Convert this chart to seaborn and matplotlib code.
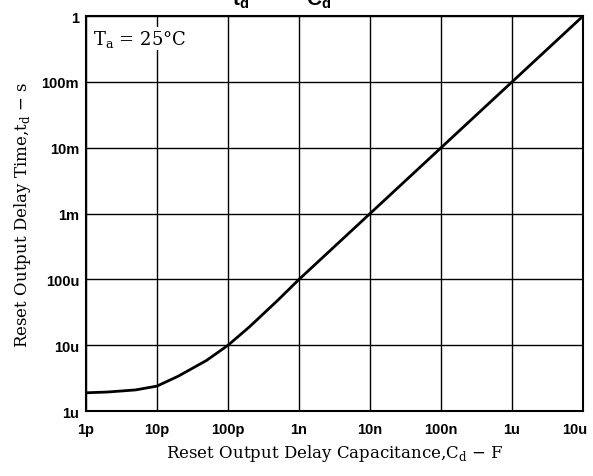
import pandas as pd
import matplotlib
matplotlib.use("Agg")
import matplotlib.pyplot as plt
import matplotlib.transforms as mtransforms
import seaborn as sns

# Values (capacitance in F, delay in s)
cap = [1e-12, 2e-12, 5e-12, 1e-11, 2e-11, 5e-11, 1e-10, 2e-10, 5e-10,
       1e-9, 1e-8, 1e-7, 1e-6, 1e-5]
delay = [1.9e-6, 1.95e-6, 2.1e-6, 2.4e-6, 3.4e-6, 5.9e-6, 1.0e-5, 1.9e-5, 4.8e-5,
         1e-4, 1e-3, 1e-2, 1e-1, 1.0]

x_ticks = [1e-12, 1e-11, 1e-10, 1e-9, 1e-8, 1e-7, 1e-6, 1e-5]
x_labels = ["1p", "10p", "100p", "1n", "10n", "100n", "1u", "10u"]
y_ticks = [1e-6, 1e-5, 1e-4, 1e-3, 1e-2, 1e-1, 1]
y_labels = ["1u", "10u", "100u", "1m", "10m", "100m", "1"]

df = pd.DataFrame({"C": cap, "t": delay})

sns.set_style("white", {"text.color": "black", "axes.labelcolor": "black",
                        "xtick.color": "black", "ytick.color": "black"})
serif = ["DejaVu Serif"]
sans = ["Liberation Sans", "DejaVu Sans"]

fig = plt.figure(figsize=(5.93, 4.77), dpi=100)
ax = fig.add_axes([0.145, 0.136, 0.838, 0.828])

sns.lineplot(data=df, x="C", y="t", color="black", linewidth=2, ax=ax)
ax.set_xscale("log")
ax.set_yscale("log")
ax.set_xlim(1e-12, 1e-5)
ax.set_ylim(1e-6, 1)

ax.set_xticks(x_ticks)
ax.set_xticklabels(x_labels, fontfamily=sans, fontsize=10.5, fontweight="bold")
ax.set_yticks(y_ticks)
ax.set_yticklabels(y_labels, fontfamily=sans, fontsize=10.5, fontweight="bold")
ax.minorticks_off()
ax.tick_params(length=0, labelcolor="black")
ax.tick_params(axis="x", pad=8)
ax.tick_params(axis="y", pad=5)

# nudge the last x label so it stays inside the figure
last = ax.get_xticklabels()[-1]
last.set_transform(last.get_transform() +
                   mtransforms.ScaledTranslation(-6 / 72, 0, fig.dpi_scale_trans))

ax.grid(True, color="black", linewidth=1)
for s in ax.spines.values():
    s.set_color("black")
    s.set_linewidth(1.5)

ax.set_xlabel("Reset Output Delay Capacitance,C$_\\mathregular{d}$ − F",
              fontfamily=serif, fontsize=12, labelpad=4, color="black")
ax.set_ylabel("Reset Output Delay Time,t$_\\mathregular{d}$ − s",
              fontfamily=serif, fontsize=12, labelpad=6, color="black")

ax.text(0.014, 0.97, "T$_\\mathregular{a}$ = 25°C", transform=ax.transAxes,
        fontfamily=serif, fontsize=13, va="top", ha="left", color="black",
        bbox=dict(facecolor="white", edgecolor="none", pad=1))

# title partly cut off at the top of the scan
fig.text(0.475, 1.0, "t$_\\mathregular{d}$          C$_\\mathregular{d}$",
         fontfamily=sans, fontsize=15, fontweight="bold", ha="center", va="center",
         color="black")

fig.savefig("out.png", dpi=100, facecolor="white")
